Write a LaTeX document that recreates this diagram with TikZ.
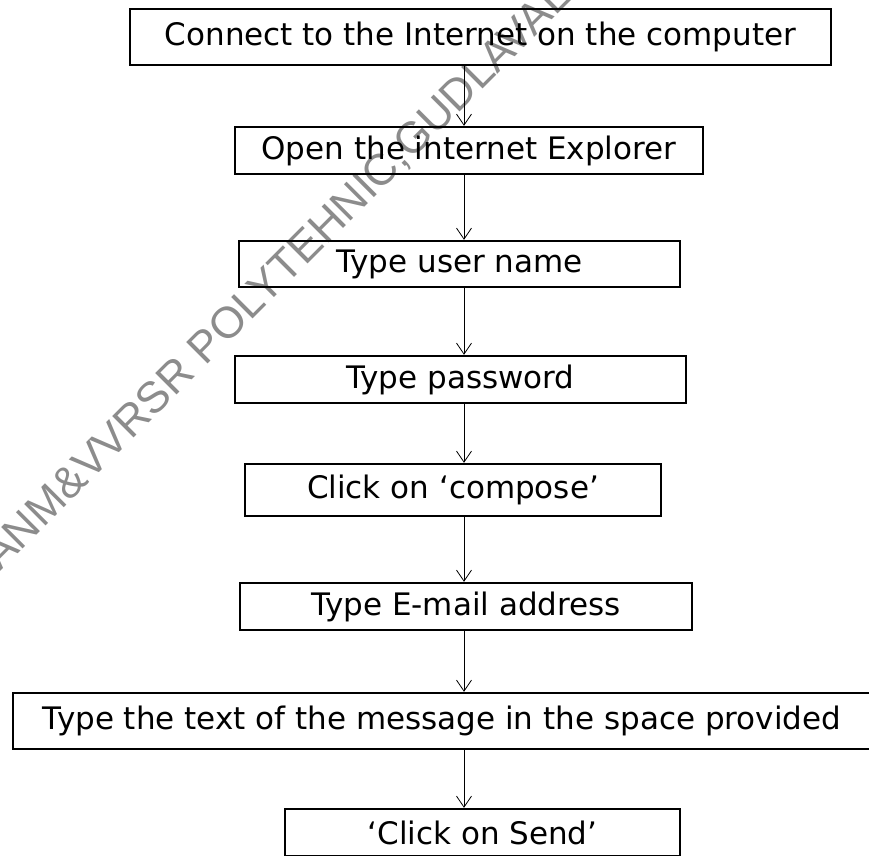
\documentclass[tikz,border=0pt]{standalone}
\usepackage{fontspec}
\usepackage{tikz}
\usetikzlibrary{arrows.meta}
\newfontfamily\boxfont{DejaVu Sans}
\newfontfamily\markfont{Liberation Sans}
\newcommand{\arw}{-{Straight Barb[length=11pt,width=15pt,line width=0.8pt]}}

\begin{document}
\begin{tikzpicture}[x=1pt,y=-1pt,
  box/.style={draw,line width=2.4pt,inner sep=0pt,font=\boxfont\fontsize{31}{36}\selectfont},
  watermark/.style={text=black!45,inner sep=0pt,font=\markfont\fontsize{44}{50}\selectfont}]
\clip (0,0) rectangle (869,855);
\node[watermark,rotate=45,anchor=base west] (wm) at (0,572) {ANM\&VVRSR POLYTEHNIC,GUDLAVAL};
%steps
\node[box,minimum width=701pt,minimum height=56pt] (connect) at (480.5,37) {Connect to the Internet on the computer};
\node[box,minimum width=468pt,minimum height=47pt] (explorer) at (469,150.5) {Open the internet Explorer};
\node[box,minimum width=441pt,minimum height=46pt] (user) at (459.5,264) {Type user name};
\node[box,minimum width=451pt,minimum height=47pt] (pass) at (460.5,379.5) {Type password};
\node[box,minimum width=416pt,minimum height=52pt] (compose) at (453,490) {Click on ‘compose’};
\node[box,minimum width=452pt,minimum height=47pt] (address) at (466,606.5) {Type E-mail address};
\node[box,minimum width=858pt,minimum height=56pt] (message) at (442,721) {Type the text of the message in the space provided};
\node[box,minimum width=395pt,minimum height=47pt] (send) at (482.5,832.5) {‘Click on Send’};
%arrows
\coordinate (spine) at (464,0);
\draw[line width=0.9pt,\arw] (connect.south -| spine) -- (explorer.north -| spine);
\draw[line width=0.9pt,\arw] (explorer.south -| spine) -- (user.north -| spine);
\draw[line width=0.9pt,\arw] (user.south -| spine) -- (pass.north -| spine);
\draw[line width=0.9pt,\arw] (pass.south -| spine) -- (compose.north -| spine);
\draw[line width=0.9pt,\arw] (compose.south -| spine) -- (address.north -| spine);
\draw[line width=0.9pt,\arw] (address.south -| spine) -- (message.north -| spine);
\draw[line width=0.9pt,\arw] (message.south -| spine) -- (send.north -| spine);
\end{tikzpicture}
\end{document}
